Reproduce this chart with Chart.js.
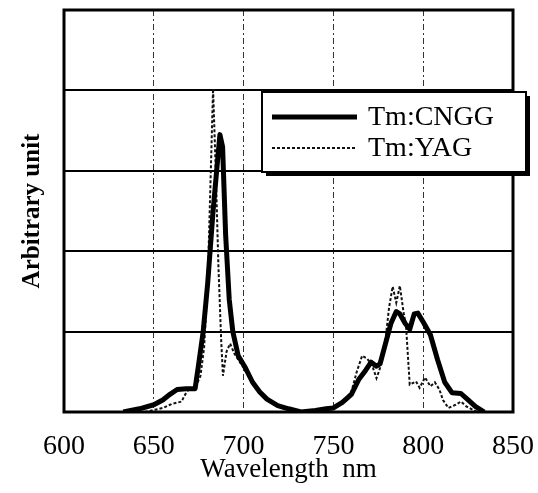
<!DOCTYPE html>
<html>
<head>
<meta charset="utf-8">
<script src="https://cdn.jsdelivr.net/npm/chart.js@4.4.0/dist/chart.umd.min.js"></script>
<style>
  html, body { margin: 0; padding: 0; background: #fff; }
  #wrap { width: 538px; height: 493px; }
</style>
</head>
<body>
<div id="wrap"><canvas id="chart" width="538" height="493"></canvas></div>
<script>
// Wavelength (nm) and intensity
const cnggWl  = [633, 642, 650, 655, 659, 663, 668, 673, 675, 677.5, 680, 683, 685, 686.8, 688.3, 690, 692, 694, 697, 701, 705, 709, 713, 719, 725, 732, 740, 746, 750, 755, 760, 764, 768, 771, 774, 776, 779, 782, 785, 787, 790, 792.5, 795, 797, 800, 804, 808, 812, 816, 821, 825, 829, 834];
const cnggVal = [0, 0.04, 0.09, 0.15, 0.22, 0.28, 0.29, 0.29, 0.6, 1.0, 1.6, 2.5, 3.0, 3.45, 3.3, 2.2, 1.4, 1.0, 0.7, 0.55, 0.37, 0.25, 0.16, 0.08, 0.04, 0.0, 0.02, 0.04, 0.05, 0.12, 0.22, 0.4, 0.52, 0.62, 0.57, 0.6, 0.85, 1.1, 1.25, 1.22, 1.1, 1.03, 1.22, 1.23, 1.12, 0.96, 0.65, 0.37, 0.24, 0.23, 0.15, 0.07, 0];

const yagWl  = [645, 655, 660, 665.5, 667, 669, 673, 676, 678, 680, 681.5, 683, 684.5, 686, 687.5, 688.5, 690.5, 692.5, 695, 700, 705, 713, 725, 732, 745, 750, 755, 760, 763, 766, 769, 772, 774, 776, 779, 781, 783, 785, 787, 789, 790.5, 792.5, 796, 798, 801, 804, 806.5, 809, 811, 814, 818, 821, 824, 830];
const yagVal = [0, 0.05, 0.1, 0.13, 0.2, 0.27, 0.3, 0.45, 0.8, 1.6, 2.8, 4.02, 3.0, 1.8, 0.9, 0.45, 0.75, 0.85, 0.72, 0.55, 0.36, 0.15, 0.03, 0, 0.03, 0.05, 0.12, 0.25, 0.5, 0.7, 0.66, 0.55, 0.42, 0.55, 0.9, 1.3, 1.56, 1.36, 1.57, 1.25, 1.05, 0.34, 0.38, 0.3, 0.43, 0.32, 0.37, 0.28, 0.15, 0.05, 0.09, 0.13, 0.07, 0];

const seriesNames = ['Tm:CNGG', 'Tm:YAG'];
const xTicks = [600, 650, 700, 750, 800, 850];

const toPoints = (xs, ys) => xs.map((x, i) => ({ x: x, y: ys[i] }));
const serif = 'Liberation Serif, Times New Roman, serif';

// frame round the plot area plus the boxed legend with its drop shadow
const framePlugin = {
    id: 'frame',
    afterDraw(chart) {
        const ctx = chart.ctx;
        const a = chart.chartArea;
        ctx.save();
        ctx.strokeStyle = '#000';
        ctx.lineWidth = 3;
        ctx.strokeRect(a.left, a.top, a.right - a.left, a.bottom - a.top);

        // legend box
        const bx = 262, by = 92, bw = 264, bh = 80;
        ctx.fillStyle = '#000';
        ctx.fillRect(bx + 4, by + 4, bw, bh);
        ctx.fillStyle = '#fff';
        ctx.fillRect(bx, by, bw, bh);
        ctx.lineWidth = 2;
        ctx.strokeRect(bx, by, bw, bh);

        const ds = chart.data.datasets;
        const rows = [117, 148];
        ds.forEach((d, i) => {
            ctx.beginPath();
            ctx.strokeStyle = d.borderColor;
            ctx.lineWidth = d.borderWidth;
            ctx.setLineDash(d.borderDash || []);
            ctx.moveTo(272, rows[i]);
            ctx.lineTo(357, rows[i]);
            ctx.stroke();
            ctx.setLineDash([]);
            ctx.fillStyle = '#000';
            ctx.font = '28px ' + serif;
            ctx.textBaseline = 'middle';
            ctx.textAlign = 'left';
            ctx.fillText(d.label, 368, rows[i] + 1);
        });
        ctx.restore();
    }
};

new Chart(document.getElementById('chart'), {
    type: 'line',
    data: {
        datasets: [
            {
                label: seriesNames[0],
                data: toPoints(cnggWl, cnggVal),
                borderColor: '#000',
                borderWidth: 5,
                pointRadius: 0,
                tension: 0,
                borderJoinStyle: 'round'
            },
            {
                label: seriesNames[1],
                data: toPoints(yagWl, yagVal),
                borderColor: '#111',
                borderWidth: 2,
                borderDash: [3, 2],
                pointRadius: 0,
                tension: 0
            }
        ]
    },
    options: {
        responsive: false,
        animation: false,
        layout: { padding: { top: 10, right: 25, left: 0, bottom: 0 } },
        plugins: {
            legend: { display: false },
            tooltip: { enabled: false }
        },
        scales: {
            x: {
                type: 'linear',
                min: 600,
                max: 850,
                afterBuildTicks: scale => { scale.ticks = xTicks.map(v => ({ value: v })); },
                afterFit: scale => {
                    scale.height = 81;
                    scale.paddingLeft = 0;
                    scale.paddingRight = 0;
                },
                ticks: {
                    color: '#000',
                    font: { family: serif, size: 28 },
                    padding: 18,
                    maxRotation: 0
                },
                grid: { color: '#333', lineWidth: 1, drawTicks: false },
                border: { display: false, dash: [6, 3, 2, 3] },
                title: {
                    display: true,
                    text: 'Wavelength  nm',
                    color: '#000',
                    font: { family: serif, size: 27 },
                    padding: { top: 0, bottom: 7 }
                }
            },
            y: {
                min: 0,
                max: 5,
                ticks: { display: false, stepSize: 1 },
                afterFit: scale => { scale.width = 64; },
                grid: { color: '#000', lineWidth: 2, drawTicks: false },
                border: { display: false },
                title: {
                    display: true,
                    text: 'Arbitrary unit',
                    color: '#000',
                    font: { family: serif, size: 25, weight: 'bold' },
                    padding: { top: 18, bottom: 0 }
                }
            }
        }
    },
    plugins: [framePlugin]
});
</script>
</body>
</html>
